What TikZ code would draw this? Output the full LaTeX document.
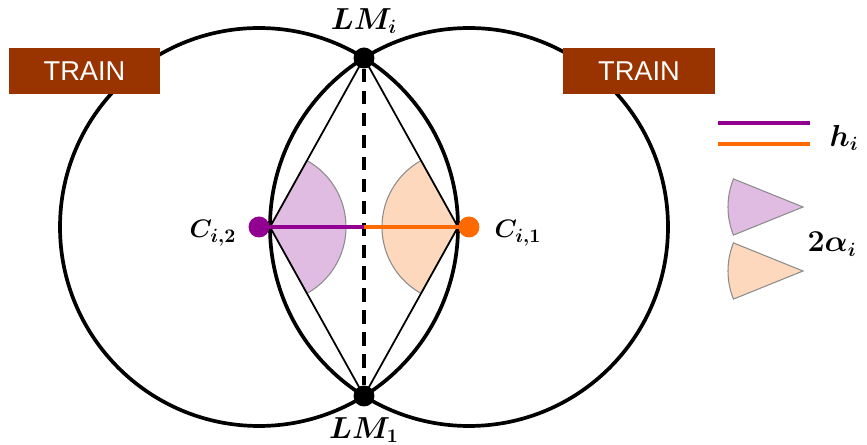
\documentclass[tikz,border=0pt]{standalone}
\usepackage{fontspec}
\usepackage{bm}
\newfontfamily\trainfont{Liberation Sans}
\definecolor{trainbrown}{RGB}{153,51,0}
\definecolor{hpurple}{RGB}{146,0,146}
\definecolor{horange}{RGB}{255,106,0}
\definecolor{wpurple}{RGB}{224,187,226}
\definecolor{worange}{RGB}{253,216,188}
\definecolor{wedgeedge}{RGB}{140,140,140}
\begin{document}
\begin{tikzpicture}[x=0.02cm,y=-0.02cm,
  bigcircle/.style={line width=2.1pt},
  thinline/.style={line width=1pt},
  midline/.style={line width=2.2pt,dash pattern=on 7.5pt off 5pt},
  hline/.style={line width=2.1pt},
  dotnode/.style={circle,inner sep=0pt,minimum size=0.42cm},
  trainbox/.style={fill=trainbrown,text=white,minimum width=3.04cm,minimum height=0.92cm,inner sep=0pt,font=\trainfont\fontsize{15.5}{16}\selectfont},
  wedgeP/.style={fill=wpurple,draw=wedgeedge,line width=0.6pt},
  wedgeO/.style={fill=worange,draw=wedgeedge,line width=0.6pt},
  lbl/.style={inner sep=0pt,font=\fontsize{16}{18}\selectfont},
  clbl/.style={inner sep=0pt,font=\fontsize{15}{17}\selectfont}]
\useasboundingbox (0,0) rectangle (867,445);
% coordinates
\coordinate (C2) at (259,227);
\coordinate (C1) at (469,227);
\coordinate (V2) at (270,227);
\coordinate (V1) at (458,227);
\coordinate (M) at (364,227);
% big circles
\draw[bigcircle] (C2) circle[radius=199];
\draw[bigcircle] (C1) circle[radius=199];
% wedges
\filldraw[wedgeP] (V2) -- ++(-61:76) arc[start angle=-61,end angle=61,radius=76] -- cycle;
\filldraw[wedgeO] (V1) -- ++(119:76) arc[start angle=119,end angle=241,radius=76] -- cycle;
% landmarks
\node[dotnode,fill=black] (LMi) at (364,58) {};
\node[dotnode,fill=black] (LM1) at (364,396) {};
% thin lines
\draw[thinline] (LMi.center) -- (V2) -- (LM1.center);
\draw[thinline] (LMi.center) -- (V1) -- (LM1.center);
% dashed line
\draw[midline] (LMi) -- (LM1);
% h lines
\draw[hline,hpurple] (C2) -- (M);
\draw[hline,horange] (M) -- (C1);
\node[dotnode,fill=hpurple] (Ci2) at (C2) {};
\node[dotnode,fill=horange] (Ci1) at (C1) {};
% labels
\node[lbl] (tLMi) at (364,21) {$\bm{LM_i}$};
\node[lbl] (tLM1) at (364,430) {$\bm{LM_1}$};
\node[clbl] (tC2) at (213,233) {$\bm{C_{i,2}}$};
\node[clbl] (tC1) at (518,233) {$\bm{C_{i,1}}$};
% train boxes
\node[trainbox] (train1) at (84.5,71) {TRAIN};
\node[trainbox] (train2) at (639,71) {TRAIN};
% legend
\coordinate (LhA) at (718,123);
\coordinate (LhB) at (810,123);
\coordinate (LoA) at (718,144);
\coordinate (LoB) at (810,144);
\draw[hline,hpurple] (LhA) -- (LhB);
\draw[hline,horange] (LoA) -- (LoB);
\node[lbl] (th) at (844,138) {$\bm{h_i}$};
\filldraw[wedgeP] (803,207) -- ++(158:75) arc[start angle=158,end angle=202,radius=75] -- cycle;
\filldraw[wedgeO] (803,271) -- ++(158:75) arc[start angle=158,end angle=202,radius=75] -- cycle;
\node[lbl] (talpha) at (832,244) {$\bm{2\alpha_i}$};
\end{tikzpicture}
\end{document}
